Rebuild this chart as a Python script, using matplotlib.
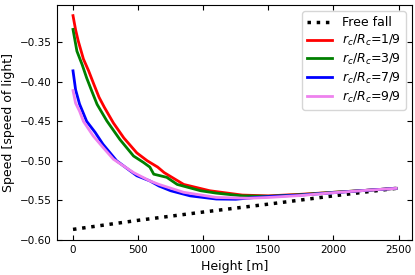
import numpy as np
import matplotlib
matplotlib.use("Agg")
import matplotlib.pyplot as plt

# free fall reference
h_free = [0, 500, 1000, 1500, 2000, 2480]
v_free = [-0.587, -0.5755, -0.565, -0.555, -0.5445, -0.535]

# r_c/R_c = 1/9
h_1 = [0, 20, 40, 80, 120, 160, 200, 240, 310, 390, 490, 570, 650, 700, 850, 1050, 1300, 1500, 1750, 2000, 2250, 2480]
v_1 = [-0.316, -0.334, -0.348, -0.371, -0.386, -0.403, -0.4195, -0.432, -0.452, -0.471, -0.490, -0.500, -0.508,
       -0.515, -0.530, -0.538, -0.5435, -0.5445, -0.5425, -0.540, -0.5375, -0.535]

# r_c/R_c = 3/9
h_3 = [0, 30, 70, 105, 145, 185, 260, 360, 465, 540, 590, 620, 720, 800, 980, 1100, 1300, 1500, 1750, 2000, 2250, 2480]
v_3 = [-0.3335, -0.361, -0.378, -0.395, -0.412, -0.4285, -0.4495, -0.473, -0.494, -0.502, -0.508, -0.517, -0.521,
       -0.530, -0.538, -0.541, -0.5445, -0.545, -0.543, -0.540, -0.5375, -0.535]

# r_c/R_c = 7/9
h_7 = [0, 20, 50, 105, 170, 230, 335, 490, 590, 660, 750, 900, 1100, 1250, 1400, 1550, 1750, 2000, 2250, 2480]
v_7 = [-0.386, -0.410, -0.428, -0.450, -0.464, -0.479, -0.500, -0.519, -0.5255, -0.532, -0.538, -0.5445, -0.5485,
       -0.5488, -0.5465, -0.545, -0.5435, -0.5405, -0.5375, -0.535]

# r_c/R_c = 9/9
h_9 = [0, 20, 50, 80, 155, 230, 310, 465, 590, 660, 850, 1100, 1350, 1500, 1750, 2000, 2250, 2480]
v_9 = [-0.411, -0.427, -0.437, -0.450, -0.4685, -0.483, -0.498, -0.515, -0.5255, -0.530, -0.540, -0.5465, -0.5475,
       -0.5465, -0.544, -0.5405, -0.5375, -0.535]

fig = plt.figure(figsize=(4.15, 2.75), dpi=100)
ax = fig.add_axes([0.137, 0.127, 0.856, 0.855])

ax.plot(h_free, v_free, ":", color="black", lw=2.5, label="Free fall")
ax.plot(h_1, v_1, color="red", lw=2, label=r"$r_c/R_c$=1/9")
ax.plot(h_3, v_3, color="green", lw=2, label=r"$r_c/R_c$=3/9")
ax.plot(h_7, v_7, color="blue", lw=2, label=r"$r_c/R_c$=7/9")
ax.plot(h_9, v_9, color="violet", lw=2, label=r"$r_c/R_c$=9/9")

ax.set_xlabel("Height [m]", fontsize=9)
ax.set_ylabel("Speed [speed of light]", fontsize=9)
ax.set_xticks([0, 500, 1000, 1500, 2000, 2500])
ax.set_yticks([-0.60, -0.55, -0.50, -0.45, -0.40, -0.35])
ax.tick_params(direction="in", top=True, right=True, labelsize=7.5)
ax.legend(loc="upper right", fontsize=9, labelspacing=0.3)

fig.savefig("out.png", dpi=100)
